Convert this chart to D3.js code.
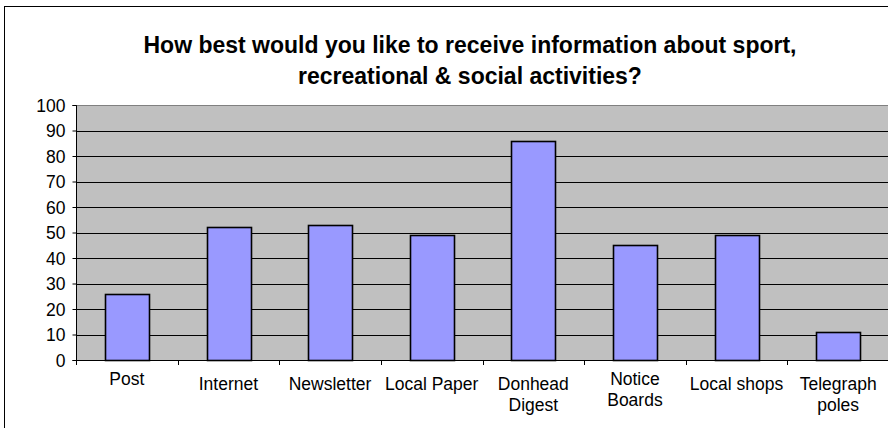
<!DOCTYPE html>
<html>
<head>
<meta charset="utf-8">
<script src="https://cdnjs.cloudflare.com/ajax/libs/d3/7.8.5/d3.min.js"></script>
<style>
  body { margin: 0; background: #fff; }
  text { font-family: "Liberation Sans", Arial, sans-serif; fill: #000; }
</style>
</head>
<body>
<div id="chart"></div>
<script>
var categories = ["Post", "Internet", "Newsletter", "Local Paper", "Donhead Digest", "Notice Boards", "Local shops", "Telegraph poles"];
var values = [26, 52, 53, 49, 86, 45, 49, 11];
var yTicks = [0, 10, 20, 30, 40, 50, 60, 70, 80, 90, 100];
var titleLines = ["How best would you like to receive information about sport,", "recreational & social activities?"];

// label lines as drawn under the bars
var labelLines = {
    "Donhead Digest": ["Donhead", "Digest"],
    "Notice Boards": ["Notice", "Boards"],
    "Telegraph poles": ["Telegraph", "poles"]
};
// excel puts some labels a bit higher
var labelRaise = {"Post": 5, "Notice Boards": 5};

var width = 888, height = 428;
var plot = {left: 76, top: 105, right: 889, bottom: 360};

var svg = d3.select("#chart").append("svg")
    .attr("width", width)
    .attr("height", height);

// outer chart border (runs off the right and bottom)
svg.append("rect")
    .attr("x", 4.5).attr("y", 6.5)
    .attr("width", width + 10).attr("height", height + 10)
    .attr("fill", "#fff")
    .attr("stroke", "#000")
    .attr("stroke-width", 1);

var x = d3.scaleBand()
    .domain(categories)
    .range([plot.left, plot.right])
    .paddingInner(0.57)
    .paddingOuter(0.285);

var y = d3.scaleLinear()
    .domain([0, 100])
    .range([plot.bottom, plot.top]);

// plot area
svg.append("rect")
    .attr("x", plot.left).attr("y", plot.top)
    .attr("width", plot.right - plot.left).attr("height", plot.bottom - plot.top)
    .attr("fill", "#c0c0c0");

// gridlines
svg.append("g").selectAll("line")
    .data(yTicks.filter(function(d) { return d > 0 && d < 100; }))
    .enter().append("line")
    .attr("x1", plot.left).attr("x2", plot.right)
    .attr("y1", function(d) { return Math.round(y(d)) + 0.5; })
    .attr("y2", function(d) { return Math.round(y(d)) + 0.5; })
    .attr("stroke", "#000")
    .attr("stroke-width", 1);

// top border of plot
svg.append("line")
    .attr("x1", plot.left).attr("x2", plot.right)
    .attr("y1", plot.top + 0.5).attr("y2", plot.top + 0.5)
    .attr("stroke", "#808080");

// bars
svg.append("g").selectAll("rect")
    .data(values)
    .enter().append("rect")
    .attr("x", function(d, i) { return Math.round(x(categories[i])) + 0.5; })
    .attr("y", function(d) { return Math.round(y(d)) + 0.5; })
    .attr("width", Math.round(x.bandwidth()))
    .attr("height", function(d) { return Math.round(y(0)) - Math.round(y(d)); })
    .attr("fill", "#9999ff")
    .attr("stroke", "#000")
    .attr("stroke-width", 1.6);

// y axis
var yAxis = d3.axisLeft(y)
    .tickValues(yTicks)
    .tickSize(4)
    .tickPadding(7);

var gy = svg.append("g")
    .attr("transform", "translate(" + (plot.left + 0.5) + ",0)")
    .call(yAxis);
gy.select(".domain").attr("stroke", "#000").attr("d", "M-4," + (plot.top + 0.5) + "H0V" + (plot.bottom + 0.5) + "H-4");
gy.selectAll(".tick line").attr("stroke", "#000");
gy.selectAll(".tick text")
    .style("font-size", "17.5px")
    .attr("font-family", null)
    .attr("dy", "0.36em");

// x axis line
svg.append("line")
    .attr("x1", plot.left).attr("x2", plot.right)
    .attr("y1", plot.bottom + 0.5).attr("y2", plot.bottom + 0.5)
    .attr("stroke", "#000");

// category tick marks between groups
svg.append("g").selectAll("line")
    .data(d3.range(categories.length + 1))
    .enter().append("line")
    .attr("x1", function(i) { return Math.round(plot.left + i * x.step()) + 0.5; })
    .attr("x2", function(i) { return Math.round(plot.left + i * x.step()) + 0.5; })
    .attr("y1", plot.bottom).attr("y2", plot.bottom + 5)
    .attr("stroke", "#000");

// category labels
var labels = svg.append("g").selectAll("text")
    .data(categories)
    .enter().append("text")
    .attr("text-anchor", "middle")
    .style("font-size", "17.5px")
    .attr("x", function(d) { return x(d) + x.bandwidth() / 2; })
    .attr("y", function(d) { return 390 - (labelRaise[d] || 0); });

labels.each(function(d) {
    var lines = labelLines[d] || [d];
    var t = d3.select(this);
    lines.forEach(function(l, i) {
        t.append("tspan")
            .attr("x", t.attr("x"))
            .attr("dy", i === 0 ? 0 : "1.18em")
            .text(l);
    });
});

// title
svg.append("g").selectAll("text")
    .data(titleLines)
    .enter().append("text")
    .attr("text-anchor", "middle")
    .attr("x", 470)
    .attr("y", function(d, i) { return 53 + i * 31; })
    .style("font-size", "23px")
    .style("font-weight", "bold")
    .text(function(d) { return d; });
</script>
</body>
</html>
